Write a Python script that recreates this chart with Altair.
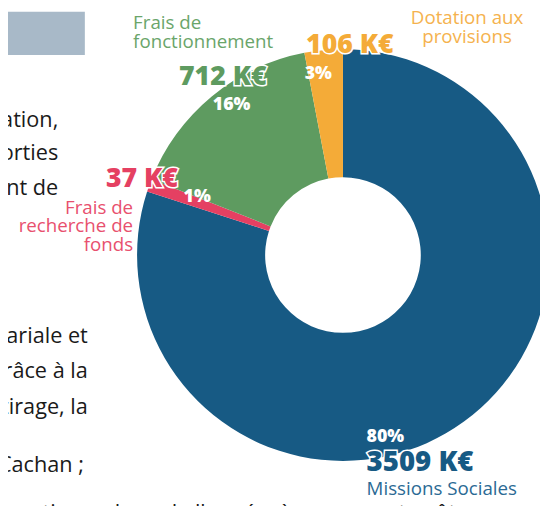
import altair as alt
import pandas as pd

# ---- data ----
categories = ["Missions Sociales", "Frais de recherche de fonds",
              "Frais de fonctionnement", "Dotation aux provisions"]
label_lines = [["Missions Sociales"], ["Frais de", "recherche de", "fonds"],
               ["Frais de", "fonctionnement"], ["Dotation aux", "provisions"]]
amounts_keur = [3509, 37, 712, 106]
percents = [80, 1, 16, 3]
slice_colors = ["#175A84", "#E54062", "#5E9B60", "#F4AB38"]
label_colors = ["#2B6A94", "#E8506E", "#6AA56A", "#F5B24E"]

body_lines = ["la fondation,", "des sorties", "le montant  de",
              "salariale et", "grâce  à  la", "le tirage,  la", "Cachan ;"]
bottom_line = "réparties au long de l'année, à un rapport coût"

df = pd.DataFrame({
    "cat": categories,
    "idx": list(range(len(categories))),
    "pct": percents,
    "amount": amounts_keur,
    "lines": label_lines,
})
df["amount_txt"] = [f"{a} K€" for a in amounts_keur]
df["pct_txt"] = [f"{p}%" for p in percents]

W, H = 540, 498
CX, CY = 340, 247
FONT = "Open Sans"

base = alt.Chart(df)

donut = base.mark_arc(innerRadius=79, outerRadius=209, stroke=None).encode(
    theta=alt.Theta("pct:Q", stack=True),
    order=alt.Order("idx:Q", sort="ascending"),
    color=alt.Color("cat:N", scale=alt.Scale(domain=categories, range=slice_colors), legend=None),
    x=alt.value(CX), y=alt.value(CY),
)

layers = [donut]

# gray block top-left
layers.append(alt.Chart(pd.DataFrame({"k": [0]})).mark_rect(color="#A8B9C8").encode(
    x=alt.value(0), x2=alt.value(78), y=alt.value(0), y2=alt.value(44)))


def filt(i):
    return base.transform_filter(alt.datum.idx == i)


# category labels (multi-line; y is the first line)
cat_pos = {0: (364, 485, "left"), 1: (127, 199, "right"),
           2: (127, 12, "left"), 3: (466, 7, "center")}
for i, (x, y, al) in cat_pos.items():
    layers.append(filt(i).mark_text(font=FONT, fontSize=19, lineHeight=19, align=al,
                                    baseline="middle", color=label_colors[i]).encode(
        text="lines", x=alt.value(x), y=alt.value(y)))

# amount labels with white outline
amt_pos = {0: (364, 458, "left"), 1: (136, 170, "center"),
           2: (218, 66, "center"), 3: (347, 34, "center")}
for i, (x, y, al) in amt_pos.items():
    fs = 28 if i == 0 else 27
    common = dict(font=FONT, fontSize=fs, fontWeight=800, align=al, baseline="middle")
    layers.append(filt(i).mark_text(color="white", stroke="white", strokeWidth=3, **common).encode(
        text="amount_txt:N", x=alt.value(x), y=alt.value(y)))
    layers.append(filt(i).mark_text(color=slice_colors[i], **common).encode(
        text="amount_txt:N", x=alt.value(x), y=alt.value(y)))

# percent labels
pct_pos = {0: (364, 432, "left"), 1: (192, 188, "center"),
           2: (227, 95, "center"), 3: (315, 63, "center")}
for i, (x, y, al) in pct_pos.items():
    layers.append(filt(i).mark_text(font=FONT, fontSize=18, fontWeight=800, align=al,
                                    baseline="middle", color="white").encode(
        text="pct_txt:N", x=alt.value(x), y=alt.value(y)))

# cropped body text on the left
body_pos = [(51, 110), (51, 144), (51, 179), (81, 329), (81, 365), (81, 401), (77, 460)]
for t, (x, y) in zip(body_lines, body_pos):
    layers.append(alt.Chart(pd.DataFrame({"t": [t]})).mark_text(
        font=FONT, fontSize=22, align="right", baseline="middle", color="#1A1A1A").encode(
        text="t:N", x=alt.value(x), y=alt.value(y)))
layers.append(alt.Chart(pd.DataFrame({"t": [bottom_line]})).mark_text(
    font=FONT, fontSize=22, align="right", baseline="middle", color="#1A1A1A").encode(
    text="t:N", x=alt.value(455), y=alt.value(509)))

chart = alt.layer(*layers).properties(
    width=W, height=H, padding=0, autosize=alt.AutoSizeParams(type="none"),
    background="white",
).configure_view(stroke=None)

chart.save("out.html", embed_options={"renderer": "svg", "actions": False})
